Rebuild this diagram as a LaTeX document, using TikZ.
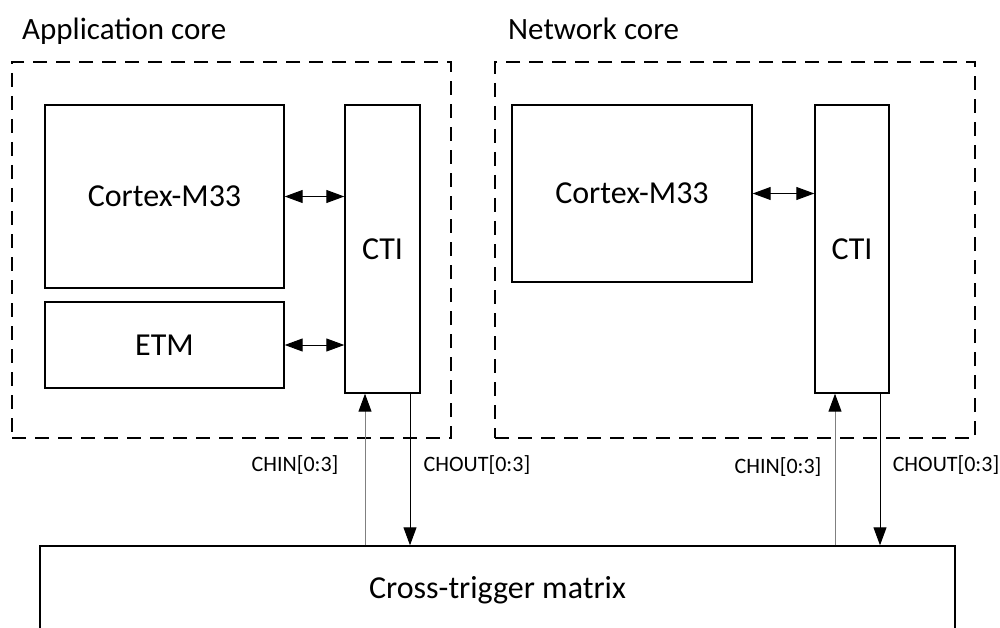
\documentclass[tikz,border=0pt]{standalone}
\usepackage{fontspec}
\setmainfont{Carlito}
\usetikzlibrary{arrows.meta,positioning}

\begin{document}
\begin{tikzpicture}[x=1pt,y=-1pt,
  font=\fontsize{32}{38}\selectfont,
  blk/.style={draw,line width=1.4pt,inner sep=0pt,align=center},
  grp/.style={draw,line width=1.4pt,dash pattern=on 14pt off 9pt},
  ttl/.style={anchor=base west,inner sep=0pt,font=\fontsize{31}{37}\selectfont},
  lbl/.style={font=\fontsize{22}{26}\selectfont,inner sep=0pt},
  ar/.style={-{Triangle[length=18pt,width=13pt,color=black]},line width=1pt},
  dar/.style={{Triangle[length=18pt,width=13pt]}-{Triangle[length=18pt,width=13pt]},line width=1pt}]
\useasboundingbox (0,0) rectangle (1000,628);
% core groups
\node[grp,minimum width=439pt,minimum height=376pt] (agrp) at (231.5,250) {};
\node[grp,minimum width=480pt,minimum height=376pt] (ngrp) at (735,250) {};
\node[ttl] (atitle) at (22,40) {Application core};
\node[ttl] (ntitle) at (508,40) {Network core};
% application core
\node[blk,minimum width=239pt,minimum height=183pt] (acm) at (164.5,196.5) {Cortex-M33};
\node[blk,minimum width=239pt,minimum height=86pt] (aetm) at (164.5,345) {ETM};
\node[blk,minimum width=75pt,minimum height=288pt] (acti) at (382.5,249) {CTI};
% network core
\node[blk,minimum width=240pt,minimum height=177pt] (ncm) at (632,193.5) {Cortex-M33};
\node[blk,minimum width=74pt,minimum height=288pt] (ncti) at (852,249) {CTI};
% matrix
\node[blk,minimum width=915pt,minimum height=88pt] (mtx) at (497.5,590) {Cross-trigger matrix};
\draw[dar] (acm.east) -- (acm.east -| acti.west);
\draw[dar] (aetm.east) -- (aetm.east -| acti.west);
\draw[dar] (ncm.east) -- (ncm.east -| ncti.west);
% trigger channels
\coordinate (ain) at ([xshift=-17.5pt]acti.south);
\coordinate (aout) at ([xshift=27.5pt]acti.south);
\coordinate (nin) at ([xshift=-17pt]ncti.south);
\coordinate (nout) at ([xshift=28pt]ncti.south);
\foreach \c in {ain,nin}
  \draw[ar,gray] (\c |- mtx.north) -- (\c);
\foreach \c in {aout,nout}
  \draw[ar] (\c) -- (\c |- mtx.north);
\node[lbl] (ainl) at (295,465) {CHIN[0:3]};
\node[lbl] (aoutl) at (477,465) {CHOUT[0:3]};
\node[lbl] (ninl) at (778,467) {CHIN[0:3]};
\node[lbl] (noutl) at (946,465) {CHOUT[0:3]};
\end{tikzpicture}
\end{document}
